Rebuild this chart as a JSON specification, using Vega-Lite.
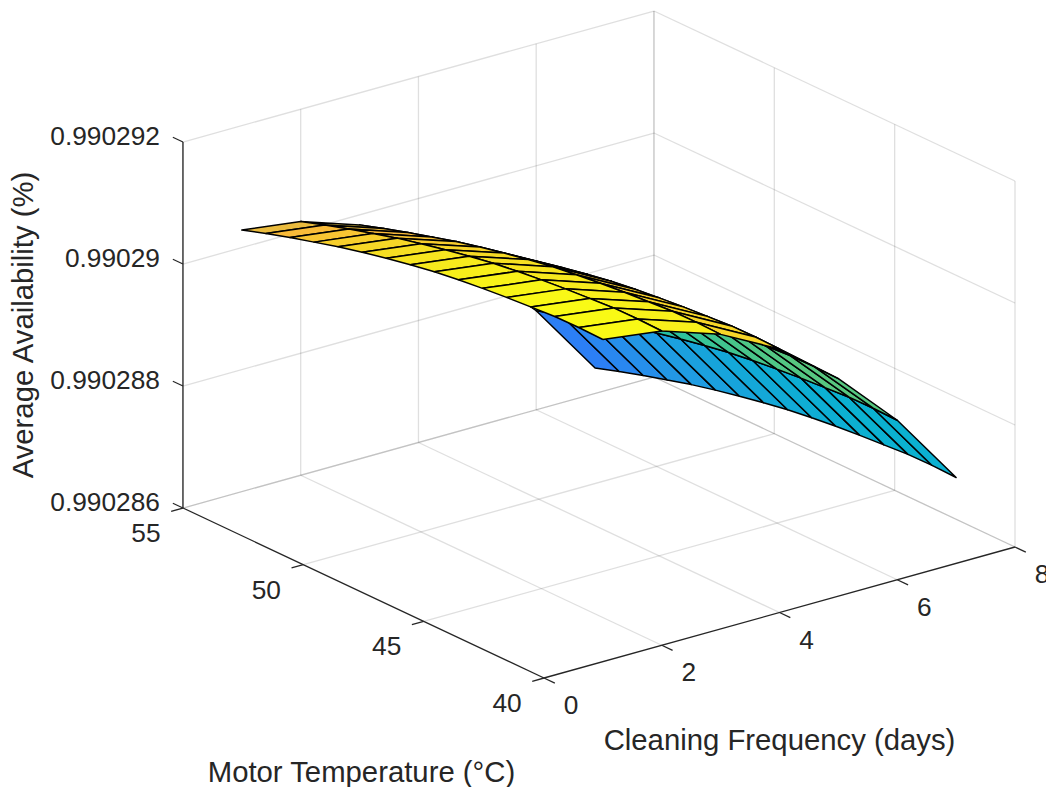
{"$schema":"https://vega.github.io/schema/vega-lite/v6.json","width":1046,"height":787,"padding":0,"autosize":"none","background":"white","config":{"view":{"stroke":null}},
"datasets":{"v":[
{"id":755,"f":7,"t":55,"a":0.9902864164},{"id":754,"f":7,"t":54,"a":0.9902865443},{"id":753,"f":7,"t":53,"a":0.9902866639},{"id":752,"f":7,"t":52,"a":0.9902867754},{"id":751,"f":7,"t":51,"a":0.9902868869},{"id":750,"f":7,"t":50,"a":0.9902869820},{"id":749,"f":7,"t":49,"a":0.9902870689},{"id":748,"f":7,"t":48,"a":0.9902871475},{"id":747,"f":7,"t":47,"a":0.9902872180},{"id":746,"f":7,"t":46,"a":0.9902872721},{"id":745,"f":7,"t":45,"a":0.9902873180},{"id":744,"f":7,"t":44,"a":0.9902873557},{"id":743,"f":7,"t":43,"a":0.9902873853},{"id":742,"f":7,"t":42,"a":0.9902874148},{"id":741,"f":7,"t":41,"a":0.9902874197},{"id":740,"f":7,"t":40,"a":0.9902874082},
{"id":655,"f":6,"t":55,"a":0.9902876230},{"id":654,"f":6,"t":54,"a":0.9902877509},{"id":653,"f":6,"t":53,"a":0.9902878705},{"id":652,"f":6,"t":52,"a":0.9902879820},{"id":651,"f":6,"t":51,"a":0.9902880935},{"id":650,"f":6,"t":50,"a":0.9902881886},{"id":649,"f":6,"t":49,"a":0.9902882755},{"id":648,"f":6,"t":48,"a":0.9902883541},{"id":647,"f":6,"t":47,"a":0.9902884246},{"id":646,"f":6,"t":46,"a":0.9902884787},{"id":645,"f":6,"t":45,"a":0.9902885246},{"id":644,"f":6,"t":44,"a":0.9902885623},{"id":643,"f":6,"t":43,"a":0.9902885919},{"id":642,"f":6,"t":42,"a":0.9902886214},{"id":641,"f":6,"t":41,"a":0.9902886263},{"id":640,"f":6,"t":40,"a":0.9902886148},
{"id":555,"f":5,"t":55,"a":0.9902885738},{"id":554,"f":5,"t":54,"a":0.9902887017},{"id":553,"f":5,"t":53,"a":0.9902888213},{"id":552,"f":5,"t":52,"a":0.9902889328},{"id":551,"f":5,"t":51,"a":0.9902890443},{"id":550,"f":5,"t":50,"a":0.9902891394},{"id":549,"f":5,"t":49,"a":0.9902892263},{"id":548,"f":5,"t":48,"a":0.9902893049},{"id":547,"f":5,"t":47,"a":0.9902893754},{"id":546,"f":5,"t":46,"a":0.9902894295},{"id":545,"f":5,"t":45,"a":0.9902894754},{"id":544,"f":5,"t":44,"a":0.9902895131},{"id":543,"f":5,"t":43,"a":0.9902895427},{"id":542,"f":5,"t":42,"a":0.9902895722},{"id":541,"f":5,"t":41,"a":0.9902895771},{"id":540,"f":5,"t":40,"a":0.9902895656},
{"id":455,"f":4,"t":55,"a":0.9902893279},{"id":454,"f":4,"t":54,"a":0.9902894558},{"id":453,"f":4,"t":53,"a":0.9902895754},{"id":452,"f":4,"t":52,"a":0.9902896869},{"id":451,"f":4,"t":51,"a":0.9902897984},{"id":450,"f":4,"t":50,"a":0.9902898935},{"id":449,"f":4,"t":49,"a":0.9902899804},{"id":448,"f":4,"t":48,"a":0.9902900590},{"id":447,"f":4,"t":47,"a":0.9902901295},{"id":446,"f":4,"t":46,"a":0.9902901836},{"id":445,"f":4,"t":45,"a":0.9902902295},{"id":444,"f":4,"t":44,"a":0.9902902672},{"id":443,"f":4,"t":43,"a":0.9902902968},{"id":442,"f":4,"t":42,"a":0.9902903263},{"id":441,"f":4,"t":41,"a":0.9902903312},{"id":440,"f":4,"t":40,"a":0.9902903197},
{"id":355,"f":3,"t":55,"a":0.9902898361},{"id":354,"f":3,"t":54,"a":0.9902899640},{"id":353,"f":3,"t":53,"a":0.9902900836},{"id":352,"f":3,"t":52,"a":0.9902901951},{"id":351,"f":3,"t":51,"a":0.9902903066},{"id":350,"f":3,"t":50,"a":0.9902904017},{"id":349,"f":3,"t":49,"a":0.9902904886},{"id":348,"f":3,"t":48,"a":0.9902905672},{"id":347,"f":3,"t":47,"a":0.9902906377},{"id":346,"f":3,"t":46,"a":0.9902906918},{"id":345,"f":3,"t":45,"a":0.9902907377},{"id":344,"f":3,"t":44,"a":0.9902907754},{"id":343,"f":3,"t":43,"a":0.9902908050},{"id":342,"f":3,"t":42,"a":0.9902908345},{"id":341,"f":3,"t":41,"a":0.9902908394},{"id":340,"f":3,"t":40,"a":0.9902908279},
{"id":255,"f":2,"t":55,"a":0.9902901598},{"id":254,"f":2,"t":54,"a":0.9902902877},{"id":253,"f":2,"t":53,"a":0.9902904073},{"id":252,"f":2,"t":52,"a":0.9902905188},{"id":251,"f":2,"t":51,"a":0.9902906303},{"id":250,"f":2,"t":50,"a":0.9902907254},{"id":249,"f":2,"t":49,"a":0.9902908123},{"id":248,"f":2,"t":48,"a":0.9902908909},{"id":247,"f":2,"t":47,"a":0.9902909614},{"id":246,"f":2,"t":46,"a":0.9902910155},{"id":245,"f":2,"t":45,"a":0.9902910614},{"id":244,"f":2,"t":44,"a":0.9902910991},{"id":243,"f":2,"t":43,"a":0.9902911287},{"id":242,"f":2,"t":42,"a":0.9902911582},{"id":241,"f":2,"t":41,"a":0.9902911631},{"id":240,"f":2,"t":40,"a":0.9902911516},
{"id":155,"f":1,"t":55,"a":0.9902902885},{"id":154,"f":1,"t":54,"a":0.9902904164},{"id":153,"f":1,"t":53,"a":0.9902905360},{"id":152,"f":1,"t":52,"a":0.9902906475},{"id":151,"f":1,"t":51,"a":0.9902907590},{"id":150,"f":1,"t":50,"a":0.9902908541},{"id":149,"f":1,"t":49,"a":0.9902909410},{"id":148,"f":1,"t":48,"a":0.9902910196},{"id":147,"f":1,"t":47,"a":0.9902910901},{"id":146,"f":1,"t":46,"a":0.9902911442},{"id":145,"f":1,"t":45,"a":0.9902911901},{"id":144,"f":1,"t":44,"a":0.9902912278},{"id":143,"f":1,"t":43,"a":0.9902912574},{"id":142,"f":1,"t":42,"a":0.9902912869},{"id":141,"f":1,"t":41,"a":0.9902912918},{"id":140,"f":1,"t":40,"a":0.9902912803}
]},
"layer":[
{"data":{"values":[
{"f":0,"t":55,"a":0.990286,"f2":0,"t2":55,"a2":0.990292},{"f":2,"t":55,"a":0.990286,"f2":2,"t2":55,"a2":0.990292},{"f":4,"t":55,"a":0.990286,"f2":4,"t2":55,"a2":0.990292},{"f":6,"t":55,"a":0.990286,"f2":6,"t2":55,"a2":0.990292},{"f":8,"t":55,"a":0.990286,"f2":8,"t2":55,"a2":0.990292},
{"f":0,"t":55,"a":0.990286,"f2":8,"t2":55,"a2":0.990286},{"f":0,"t":55,"a":0.990288,"f2":8,"t2":55,"a2":0.990288},{"f":0,"t":55,"a":0.99029,"f2":8,"t2":55,"a2":0.99029},{"f":0,"t":55,"a":0.990292,"f2":8,"t2":55,"a2":0.990292},
{"f":8,"t":40,"a":0.990286,"f2":8,"t2":40,"a2":0.990292},{"f":8,"t":45,"a":0.990286,"f2":8,"t2":45,"a2":0.990292},{"f":8,"t":50,"a":0.990286,"f2":8,"t2":50,"a2":0.990292},{"f":8,"t":55,"a":0.990286,"f2":8,"t2":55,"a2":0.990292},
{"f":8,"t":40,"a":0.990286,"f2":8,"t2":55,"a2":0.990286},{"f":8,"t":40,"a":0.990288,"f2":8,"t2":55,"a2":0.990288},{"f":8,"t":40,"a":0.99029,"f2":8,"t2":55,"a2":0.99029},{"f":8,"t":40,"a":0.990292,"f2":8,"t2":55,"a2":0.990292},
{"f":2,"t":40,"a":0.990286,"f2":2,"t2":55,"a2":0.990286},{"f":4,"t":40,"a":0.990286,"f2":4,"t2":55,"a2":0.990286},{"f":6,"t":40,"a":0.990286,"f2":6,"t2":55,"a2":0.990286},{"f":8,"t":40,"a":0.990286,"f2":8,"t2":55,"a2":0.990286},
{"f":0,"t":45,"a":0.990286,"f2":8,"t2":45,"a2":0.990286},{"f":0,"t":50,"a":0.990286,"f2":8,"t2":50,"a2":0.990286},{"f":0,"t":55,"a":0.990286,"f2":8,"t2":55,"a2":0.990286}
]},
"transform":[
{"calculate":"544+58.875*datum.f-24.07*(datum.t-40)","as":"px"},{"calculate":"678-16.375*datum.f-11.333*(datum.t-40)-61000000*(datum.a-0.990286)","as":"py"},
{"calculate":"544+58.875*datum.f2-24.07*(datum.t2-40)","as":"px2"},{"calculate":"678-16.375*datum.f2-11.333*(datum.t2-40)-61000000*(datum.a2-0.990286)","as":"py2"}],
"mark":{"type":"rule","stroke":"#262626","strokeOpacity":0.15,"strokeWidth":1.3},
"encoding":{"x":{"field":"px","type":"quantitative","scale":{"domain":[0,1046],"nice":false,"zero":false},"axis":null},"y":{"field":"py","type":"quantitative","scale":{"domain":[787,0],"nice":false,"zero":false},"axis":null},"x2":{"field":"px2"},"y2":{"field":"py2"}}},
{"data":{"values":[
{"f":0,"t":55,"a":0.990286,"f2":0,"t2":40,"a2":0.990286},{"f":0,"t":40,"a":0.990286,"f2":8,"t2":40,"a2":0.990286},{"f":0,"t":55,"a":0.990286,"f2":0,"t2":55,"a2":0.990292},
{"f":0,"t":55,"a":0.990286,"f2":-0.2,"t2":55,"a2":0.990286},{"f":0,"t":50,"a":0.990286,"f2":-0.2,"t2":50,"a2":0.990286},{"f":0,"t":45,"a":0.990286,"f2":-0.2,"t2":45,"a2":0.990286},{"f":0,"t":40,"a":0.990286,"f2":-0.2,"t2":40,"a2":0.990286},
{"f":0,"t":40,"a":0.990286,"f2":0,"t2":39.55,"a2":0.990286},{"f":2,"t":40,"a":0.990286,"f2":2,"t2":39.55,"a2":0.990286},{"f":4,"t":40,"a":0.990286,"f2":4,"t2":39.55,"a2":0.990286},{"f":6,"t":40,"a":0.990286,"f2":6,"t2":39.55,"a2":0.990286},{"f":8,"t":40,"a":0.990286,"f2":8,"t2":39.55,"a2":0.990286},
{"f":0,"t":55,"a":0.990286,"f2":0,"t2":55.42,"a2":0.990286},{"f":0,"t":55,"a":0.990288,"f2":0,"t2":55.42,"a2":0.990288},{"f":0,"t":55,"a":0.99029,"f2":0,"t2":55.42,"a2":0.99029},{"f":0,"t":55,"a":0.990292,"f2":0,"t2":55.42,"a2":0.990292}
]},
"transform":[
{"calculate":"544+58.875*datum.f-24.07*(datum.t-40)","as":"px"},{"calculate":"678-16.375*datum.f-11.333*(datum.t-40)-61000000*(datum.a-0.990286)","as":"py"},
{"calculate":"544+58.875*datum.f2-24.07*(datum.t2-40)","as":"px2"},{"calculate":"678-16.375*datum.f2-11.333*(datum.t2-40)-61000000*(datum.a2-0.990286)","as":"py2"}],
"mark":{"type":"rule","stroke":"#262626","strokeWidth":1.3},
"encoding":{"x":{"field":"px","type":"quantitative"},"y":{"field":"py","type":"quantitative"},"x2":{"field":"px2"},"y2":{"field":"py2"}}},
{"data":{"name":"v"},
"transform":[
{"filter":"datum.f<7 && datum.t<55"},
{"calculate":"(datum.f+1)*100+datum.t","as":"k1"},{"calculate":"(datum.f+1)*100+datum.t+1","as":"k2"},{"calculate":"datum.f*100+datum.t+1","as":"k3"},
{"lookup":"k1","from":{"data":{"name":"v"},"key":"id","fields":["a"]},"as":["a1"]},
{"lookup":"k2","from":{"data":{"name":"v"},"key":"id","fields":["a"]},"as":["a2"]},
{"lookup":"k3","from":{"data":{"name":"v"},"key":"id","fields":["a"]},"as":["a3"]},
{"calculate":"datum.a","as":"a0"},{"calculate":"datum.a","as":"a4"},
{"fold":["a0","a1","a2","a3","a4"],"as":["corner","z"]},
{"calculate":"datum.f+((datum.corner==='a1'||datum.corner==='a2')?1:0)","as":"fv"},
{"calculate":"datum.t+((datum.corner==='a2'||datum.corner==='a3')?1:0)","as":"tv"},
{"calculate":"544+58.875*datum.fv-24.07*(datum.tv-40)","as":"px"},
{"calculate":"678-16.375*datum.fv-11.333*(datum.tv-40)-61000000*(datum.z-0.990286)","as":"py"}],
"mark":{"type":"line","stroke":"#000000","strokeWidth":1.5,"strokeJoin":"round","clip":false},
"encoding":{"x":{"field":"px","type":"quantitative"},"y":{"field":"py","type":"quantitative"},"detail":{"field":"id"},"order":{"field":"corner"},
"fill":{"field":"a","type":"quantitative","legend":null,"scale":{"domain":[0.990286416,0.990286904,0.990287393,0.990287735,0.990288125,0.990288614,0.990288956,0.990289346,0.990289737,0.990290128,0.990290519,0.990290909,0.9902913],"range":["#3E26A8","#4745F0","#2F6BFB","#2C7EF6","#2299E4","#0BB1D1","#05B9BE","#33C398","#72CA6E","#C0BF4A","#F9BA3A","#F6DC24","#F9FB15"],"interpolate":"rgb"}}}},
{"data":{"values":[{"l":"0.990292","a":0.990292},{"l":"0.99029","a":0.99029},{"l":"0.990288","a":0.990288},{"l":"0.990286","a":0.990286}]},
"transform":[{"calculate":"183","as":"px"},{"calculate":"508-61000000*(datum.a-0.990286)","as":"py"}],
"mark":{"type":"text","font":"Liberation Sans","fontSize":26.3,"fill":"#262626","align":"right","baseline":"middle","dx":-23,"dy":-5},
"encoding":{"x":{"field":"px","type":"quantitative"},"y":{"field":"py","type":"quantitative"},"text":{"field":"l"}}},
{"data":{"values":[{"l":"55","t":55},{"l":"50","t":50},{"l":"45","t":45},{"l":"40","t":40}]},
"transform":[{"calculate":"544-24.07*(datum.t-40)","as":"px"},{"calculate":"678-11.333*(datum.t-40)","as":"py"}],
"mark":{"type":"text","font":"Liberation Sans","fontSize":26.3,"fill":"#262626","align":"center","baseline":"middle","dx":-37,"dy":26},
"encoding":{"x":{"field":"px","type":"quantitative"},"y":{"field":"py","type":"quantitative"},"text":{"field":"l"}}},
{"data":{"values":[{"l":"0","f":0},{"l":"2","f":2},{"l":"4","f":4},{"l":"6","f":6},{"l":"8","f":8}]},
"transform":[{"calculate":"544+58.875*datum.f","as":"px"},{"calculate":"678-16.375*datum.f","as":"py"}],
"mark":{"type":"text","font":"Liberation Sans","fontSize":26.3,"fill":"#262626","align":"center","baseline":"middle","dx":27,"dy":28},
"encoding":{"x":{"field":"px","type":"quantitative"},"y":{"field":"py","type":"quantitative"},"text":{"field":"l"}}},
{"data":{"values":[{"l":"Motor Temperature (°C)","t":47.5}]},
"transform":[{"calculate":"544-24.07*(datum.t-40)","as":"px"},{"calculate":"678-11.333*(datum.t-40)","as":"py"}],
"mark":{"type":"text","font":"Liberation Sans","fontSize":29.3,"fill":"#262626","align":"center","baseline":"middle","dx":-2,"dy":180},
"encoding":{"x":{"field":"px","type":"quantitative"},"y":{"field":"py","type":"quantitative"},"text":{"field":"l"}}},
{"data":{"values":[{"l":"Cleaning Frequency (days)","f":4}]},
"transform":[{"calculate":"544+58.875*datum.f","as":"px"},{"calculate":"678-16.375*datum.f","as":"py"}],
"mark":{"type":"text","font":"Liberation Sans","fontSize":29.3,"fill":"#262626","align":"center","baseline":"middle","dx":0,"dy":128},
"encoding":{"x":{"field":"px","type":"quantitative"},"y":{"field":"py","type":"quantitative"},"text":{"field":"l"}}},
{"data":{"values":[{"l":"Average Availability (%)","a":0.990289}]},
"transform":[{"calculate":"183","as":"px"},{"calculate":"508-61000000*(datum.a-0.990286)","as":"py"}],
"mark":{"type":"text","font":"Liberation Sans","fontSize":29.3,"fill":"#262626","align":"center","baseline":"middle","angle":270,"dy":-159},
"encoding":{"x":{"field":"px","type":"quantitative"},"y":{"field":"py","type":"quantitative"},"text":{"field":"l"}}}
]}
